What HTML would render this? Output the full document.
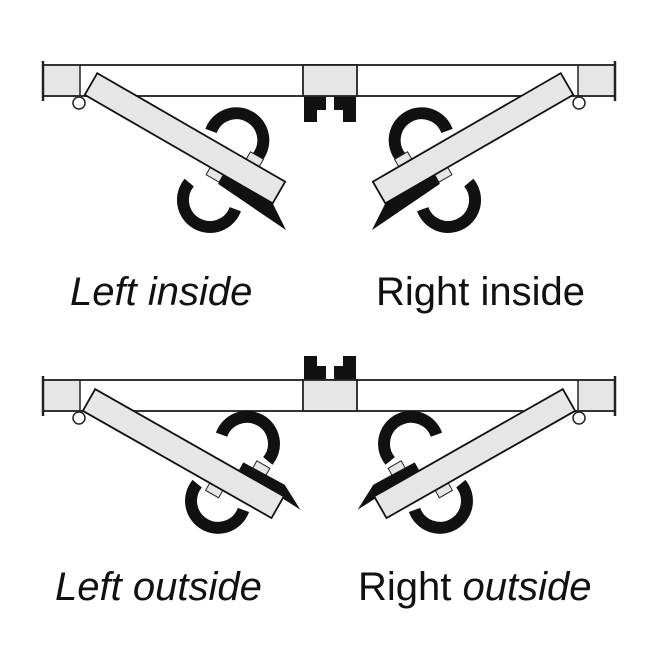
<!DOCTYPE html>
<html><head><meta charset="utf-8"><style>
html,body{margin:0;padding:0;background:#fff;width:660px;height:652px;overflow:hidden}
text{font-family:"Liberation Sans",sans-serif;font-size:40px;fill:#111}
</style></head><body>
<svg width="660" height="652" viewBox="0 0 660 652" xmlns="http://www.w3.org/2000/svg">
<defs>
<g id="railTop">
  <rect x="43" y="65" width="37" height="31" fill="#e6e6e6"/>
  <line x1="43" y1="65" x2="330" y2="65" stroke="#333" stroke-width="2"/>
  <line x1="43" y1="96" x2="330" y2="96" stroke="#333" stroke-width="2"/>
  <line x1="43" y1="61" x2="43" y2="101" stroke="#222" stroke-width="2.5"/>
  <line x1="80" y1="65" x2="80" y2="96" stroke="#222" stroke-width="1.5"/>
  <circle cx="79" cy="103" r="6" fill="#fff" stroke="#222" stroke-width="1.5"/>
</g>
<g id="inPanel">
  <path d="M180.6,-19.3 A27,27 0 1 0 127.4,-19.3" fill="none" stroke="#111" stroke-width="12"/>
  <path d="M134.4,36.3 A27,27 0 1 0 187.6,36.3" fill="none" stroke="#111" stroke-width="12"/>
  <rect x="172" y="-21" width="15" height="9" fill="#e6e6e6" stroke="#222" stroke-width="1"/>
  <rect x="145" y="12" width="15" height="9" fill="#e6e6e6" stroke="#222" stroke-width="1"/>
  <polygon points="160,12.5 217,12.5 242,29 160,23" fill="#111"/>
  <rect x="0" y="-12.5" width="217" height="25" fill="#e6e6e6" stroke="#111" stroke-width="1.8"/>
</g>
<g id="outPanel">
  <path d="M185.6,-35.3 A27,27 0 1 0 132.4,-35.3" fill="none" stroke="#111" stroke-width="12"/>
  <path d="M135.4,19.3 A27,27 0 1 0 188.6,19.3" fill="none" stroke="#111" stroke-width="12"/>
  <rect x="176" y="-30" width="15" height="9" fill="#e6e6e6" stroke="#222" stroke-width="1"/>
  <rect x="146" y="12" width="15" height="9" fill="#e6e6e6" stroke="#222" stroke-width="1"/>
  <polygon points="165,-22 212,-23 238,-9 165,-12.5" fill="#111"/>
  <rect x="0" y="-12.5" width="217" height="25" fill="#e6e6e6" stroke="#111" stroke-width="1.8"/>
</g>
<g id="halfTop">
  <use href="#railTop"/>
  <g transform="translate(91,84) rotate(30)"><use href="#inPanel"/></g>
</g>
<g id="halfBot">
  <g transform="translate(0,315)"><use href="#railTop"/></g>
  <g transform="translate(89,400) rotate(29.6)"><use href="#outPanel"/></g>
</g>
</defs>

<use href="#halfTop"/>
<g transform="translate(658,0) scale(-1,1)"><use href="#halfTop"/></g>
<use href="#halfBot"/>
<g transform="translate(658,0) scale(-1,1)"><use href="#halfBot"/></g>

<rect x="303" y="65" width="54" height="31" fill="#e6e6e6" stroke="#222" stroke-width="1.8"/>
<polygon points="304,97 326,97 326,110 317,110 317,122 304,122" fill="#111"/>
<polygon points="356,97 334,97 334,110 343,110 343,122 356,122" fill="#111"/>
<rect x="303" y="380" width="54" height="31" fill="#e6e6e6" stroke="#222" stroke-width="1.8"/>
<polygon points="304,379 326,379 326,366 317,366 317,356 304,356" fill="#111"/>
<polygon points="356,379 334,379 334,366 343,366 343,356 356,356" fill="#111"/>

<text x="70" y="305" font-style="italic">Left inside</text>
<text x="376" y="305">Right inside</text>
<text x="55" y="600" font-style="italic">Left outside</text>
<text x="358" y="600">Right <tspan font-style="italic">outside</tspan></text>
</svg>
</body></html>
